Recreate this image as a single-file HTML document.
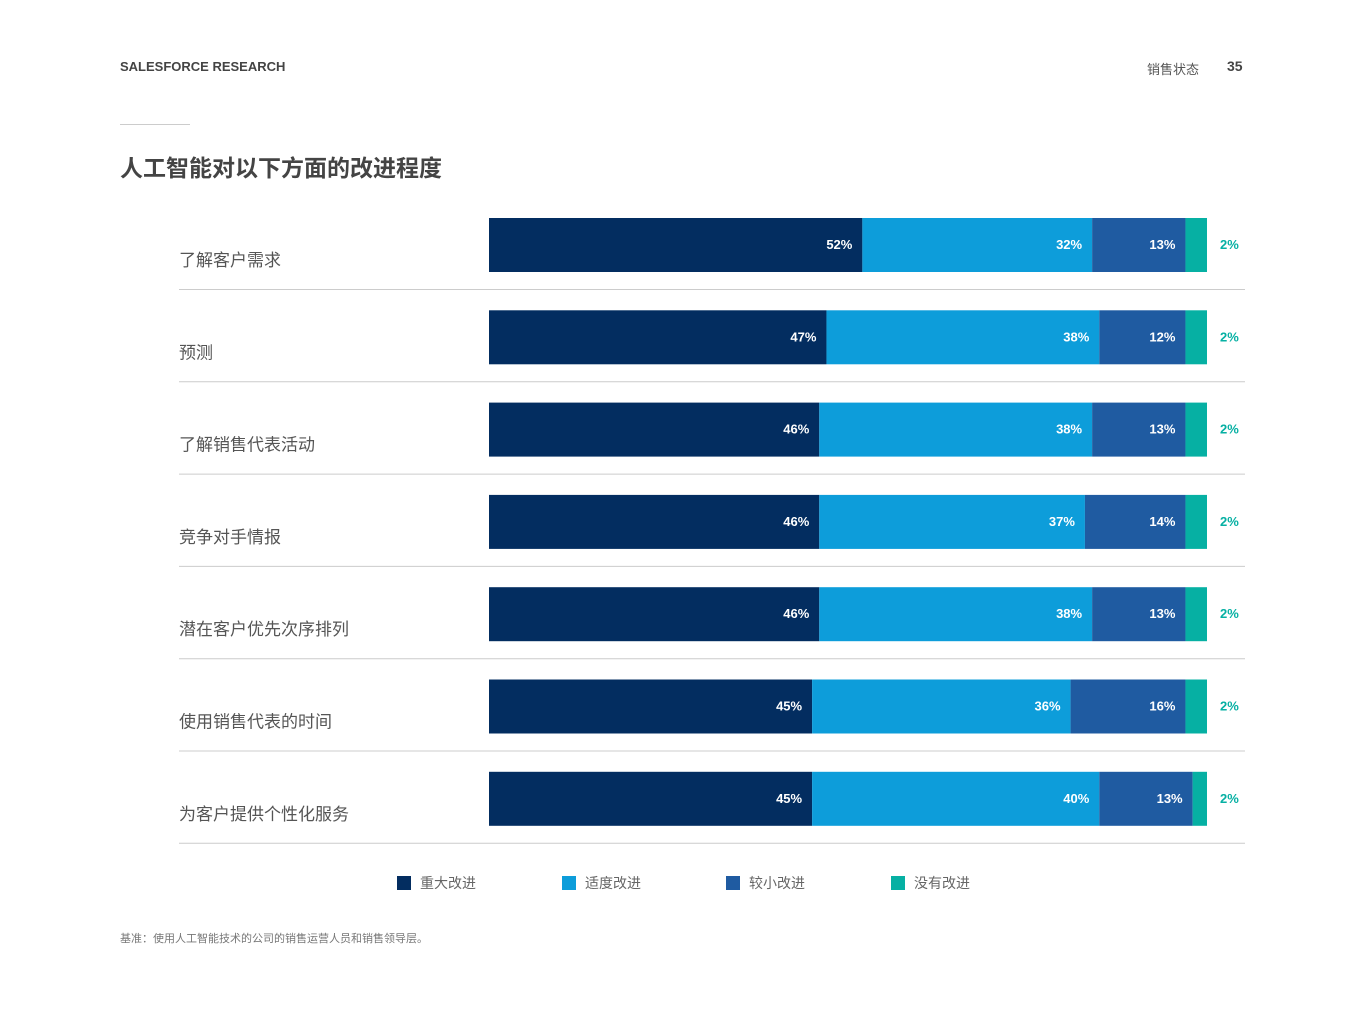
<!DOCTYPE html>
<html><head><meta charset="utf-8">
<style>
body{margin:0;background:#fff;font-family:"Liberation Sans","Noto Sans CJK SC",sans-serif;}
#page{position:relative;width:1365px;height:1024px;overflow:hidden;}
.t{position:absolute;white-space:nowrap;}
</style></head>
<body>
<div id="page">
<div class="t" style="left:120px;top:59px;font-size:13px;font-weight:bold;color:#444;">SALESFORCE RESEARCH</div>
<div class="t" style="left:1147px;top:59px;font-size:13px;color:#555;">销售状态</div>
<div class="t" style="left:1227px;top:58px;font-size:14px;font-weight:bold;color:#444;">35</div>
<div style="position:absolute;left:120px;top:124px;width:70px;height:1px;background:#ccc;"></div>
<div class="t" style="left:120px;top:149px;font-size:23px;font-weight:bold;color:#444;">人工智能对以下方面的改进程度</div>
<svg id="chart" width="1365" height="1024" style="position:absolute;left:0;top:0;"></svg>
<div class="t" style="left:120px;top:930px;font-size:11px;color:#777;">基准：使用人工智能技术的公司的销售运营人员和销售领导层。</div>
</div>
<script>
const categories=["了解客户需求","预测","了解销售代表活动","竞争对手情报","潜在客户优先次序排列","使用销售代表的时间","为客户提供个性化服务"];
const major=[52,47,46,46,46,45,45];
const moderate=[32,38,38,37,38,36,40];
const minor=[13,12,13,14,13,16,13];
const none=[2,2,2,2,2,2,2];
const seriesNames=["重大改进","适度改进","较小改进","没有改进"];
const colors=["#032d60","#0d9dda","#1f5ba1","#06b0a3"];
const svg=document.getElementById('chart');
const NS="http://www.w3.org/2000/svg";
const x0=489,xEnd=1207,pxPer=7.18;
function xs(v){return x0+v*pxPer;}
function rowY(i){return 218+i*92.3;}
function mk(tag,a){const e=document.createElementNS(NS,tag);for(const k in a)e.setAttribute(k,a[k]);svg.appendChild(e);return e;}
const series=[major,moderate,minor,none];
categories.forEach((c,i)=>{
  const y=rowY(i);
  const lab=mk('text',{x:179,y:y+48,'font-size':17,fill:'#555'});
  lab.textContent=c;
  
  
  const ln=mk('line',{x1:179,x2:1245,y1:y+71.5,y2:y+71.5,stroke:'#ccc','stroke-width':1});
  
  
  let cum=0;
  series.forEach((s,k)=>{
    const xa=xs(cum);cum+=s[i];
    let w=xs(cum)-xa;
    if(k===3) w=Math.max(w,xEnd-xa);
    const r=mk('rect',{x:xa,y:y,width:w,height:54,fill:colors[k]});
    
    
    let t;
    if(k<3){
      t=mk('text',{x:xa+w-10,y:y+31,'font-size':13,'font-weight':'bold',fill:'#fff','text-anchor':'end'});
    }else{
      t=mk('text',{x:1220,y:y+31,'font-size':13,'font-weight':'bold',fill:'#06b0a3'});
    }
    t.textContent=s[i]+'%';
    
    
  });
});
const legX=[397,562,726,891];
seriesNames.forEach((n,k)=>{
  const r=mk('rect',{x:legX[k],y:876,width:14,height:14,fill:colors[k]});
  
  
  const t=mk('text',{x:legX[k]+23,y:888,'font-size':14,fill:'#666'});
  t.textContent=n;
  
  
});
</script>
</body></html>
